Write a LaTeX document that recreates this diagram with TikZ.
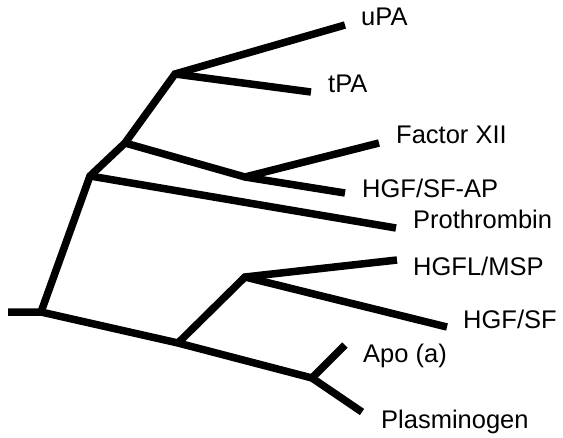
\documentclass[tikz,border=0pt]{standalone}
\usepackage{fontspec}
\setmainfont{Liberation Sans}
\newcommand{\taxonfont}{\fontsize{25.5pt}{30pt}\selectfont}
\begin{document}
\begin{tikzpicture}[x=1pt,y=-1pt,
  branch/.style={line width=7.5pt,line cap=butt,line join=miter},
  taxon/.style={anchor=base west,inner sep=0pt,font=\taxonfont}]
\useasboundingbox (0,0) rectangle (563,437);
% internal nodes of the tree
\coordinate (stub) at (8,312);
\coordinate (R) at (41,312);
\coordinate (A) at (90,176);
\coordinate (B) at (125,143);
\coordinate (C) at (175,74);
\coordinate (D) at (245,177);
\coordinate (E) at (178,343);
\coordinate (F) at (245,277);
\coordinate (G) at (312,378);
% leaf tips
\coordinate (tuPA) at (345,25);
\coordinate (ttPA) at (311,92);
\coordinate (tFXII) at (379,143);
\coordinate (tAP) at (345,193);
\coordinate (tPro) at (396,228);
\coordinate (tMSP) at (397,260);
\coordinate (tHGF) at (447,327);
\coordinate (tApo) at (345,345);
\coordinate (tPlg) at (362,412);
% taxon labels (positions on the baseline)
\node[taxon] (luPA) at (361,25) {uPA};
\node[taxon] (ltPA) at (328,92) {tPA};
\node[taxon] (lFXII) at (396,143) {Factor XII};
\node[taxon] (lAP) at (362,197) {HGF/SF-AP};
\node[taxon] (lPro) at (413,228) {Prothrombin};
\node[taxon] (lMSP) at (413,275) {HGFL/MSP};
\node[taxon] (lHGF) at (463,328) {HGF/SF};
\node[taxon] (lApo) at (363,362) {Apo (a)};
\node[taxon] (lPlg) at (381,428) {Plasminogen};
% branches
\draw[branch] (stub) -- (R) -- (A) -- (B) -- (C) -- (tuPA);
\draw[branch] (C) -- (ttPA);
\draw[branch] (B) -- (D) -- (tFXII);
\draw[branch] (D) -- (tAP);
\draw[branch] (A) -- (tPro);
\draw[branch] (R) -- (E) -- (G) -- (tApo);
\draw[branch] (G) -- (tPlg);
\draw[branch] (E) -- (F) -- (tMSP);
\draw[branch] (F) -- (tHGF);
\end{tikzpicture}
\end{document}
